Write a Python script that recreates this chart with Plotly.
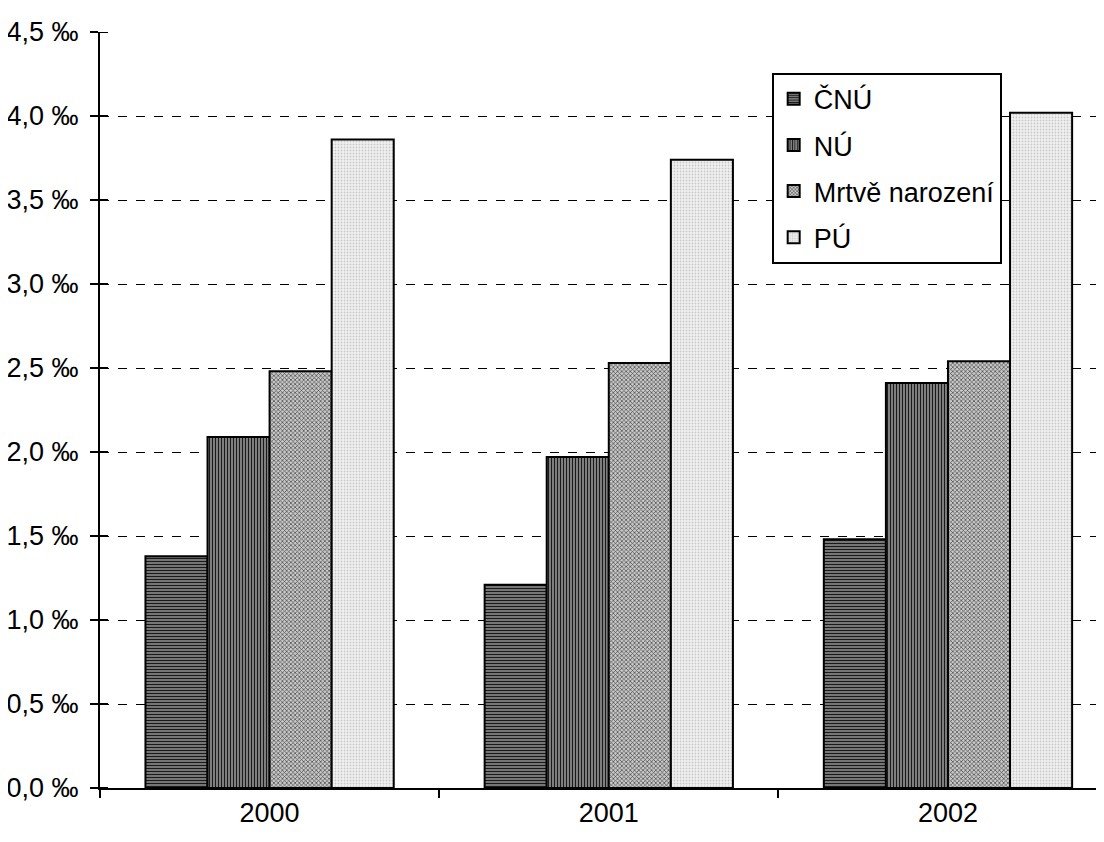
import plotly.graph_objects as go

years = ["2000", "2001", "2002"]
series_names = ["ČNÚ", "NÚ", "Mrtvě narození", "PÚ"]
cnu = [1.38, 1.21, 1.48]
nu = [2.09, 1.97, 2.41]
mrtve = [2.48, 2.53, 2.54]
pu = [3.86, 3.74, 4.02]
ytick_vals = [0, 0.5, 1.0, 1.5, 2.0, 2.5, 3.0, 3.5, 4.0, 4.5]
ytick_text = ["0,0 ‰", "0,5 ‰", "1,0 ‰", "1,5 ‰", "2,0 ‰", "2,5 ‰", "3,0 ‰", "3,5 ‰", "4,0 ‰", "4,5 ‰"]

FONT = "Liberation Sans Narrow, Arial Narrow, Liberation Sans, Arial"

styles = [
    dict(color="#808080", shape="-", fg="#1a1a1a", size=3, sol=0.4),
    dict(color="#8a8a8a", shape="|", fg="#1a1a1a", size=3, sol=0.4),
    dict(color="#c8c8c8", shape="x", fg="#444444", size=3, sol=0.4),
    dict(color="#f2f2f2", shape=".", fg="#c8c8c8", size=3, sol=0.3),
]

fig = go.Figure()
for i, (name, vals, st) in enumerate(zip(series_names, [cnu, nu, mrtve, pu], styles)):
    fig.add_trace(go.Bar(
        x=years, y=vals, name=name, legendgroup=f"g{i}",
        marker=dict(
            color=st["color"],
            line=dict(color="black", width=2),
            pattern=dict(shape=st["shape"], fgcolor=st["fg"], bgcolor=st["color"],
                         size=st["size"], solidity=st["sol"], fillmode="replace"),
        ),
    ))

# inner half of crossing y ticks
shapes = []
for v in ytick_vals:
    shapes.append(dict(type="line", xref="x domain", yref="y", x0=0, x1=0.008,
                       y0=v, y1=v, line=dict(color="black", width=2)))

fig.update_layout(
    width=1104, height=842,
    margin=dict(l=92, r=8, t=24, b=62, autoexpand=False),
    paper_bgcolor="white", plot_bgcolor="white",
    barmode="group", bargap=0.268, bargroupgap=0,
    font=dict(family=FONT, size=27, color="black"),
    showlegend=True,
    legend=dict(
        x=0.669, y=0.946, xanchor="left", yanchor="top",
        bordercolor="black", borderwidth=2, bgcolor="white",
        font=dict(size=27, family=FONT), tracegroupgap=8,
        traceorder="grouped", itemwidth=30,
    ),
    shapes=shapes,
    xaxis=dict(
        type="category", range=[-0.5, 2.46], automargin=False,
        showline=True, linecolor="black", linewidth=2,
        ticks="outside", tickson="boundaries", ticklen=8, tickwidth=2, tickcolor="black",
        showgrid=False, tickfont=dict(size=27), fixedrange=True,
    ),
    yaxis=dict(
        range=[0, 4.5], tickvals=ytick_vals, ticktext=ytick_text, automargin=False,
        showline=True, linecolor="black", linewidth=2,
        ticks="outside", ticklen=8, tickwidth=2, tickcolor="black",
        showgrid=True, gridcolor="black", gridwidth=1, griddash="dash",
        zeroline=False, tickfont=dict(size=27), ticklabelstandoff=6,
    ),
)

fig.write_html("out.html")
